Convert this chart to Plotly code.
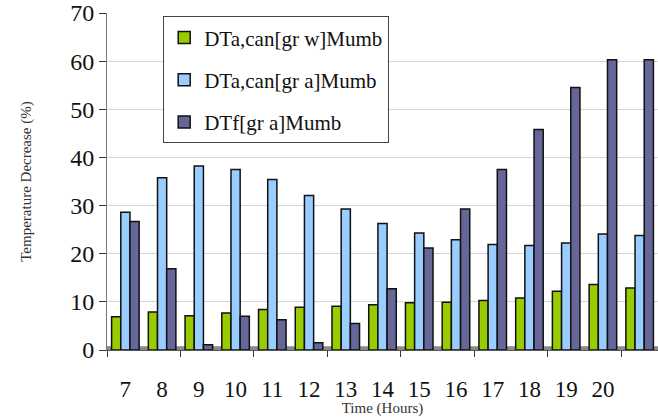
import plotly.graph_objects as go

# Hourly temperature decrease for three configurations
hours = ["7", "8", "9", "10", "11", "12", "13", "14", "15", "16", "17", "18", "19", "20", ""]
series_names = ["DTa,can[gr w]Mumb", "DTa,can[gr a]Mumb", "DTf[gr a]Mumb"]
green_vals = [6.9, 7.9, 7.1, 7.7, 8.4, 8.9, 9.1, 9.4, 9.8, 9.9, 10.3, 10.8, 12.2, 13.6, 12.9]
blue_vals = [28.6, 35.8, 38.2, 37.5, 35.4, 32.1, 29.3, 26.3, 24.3, 22.9, 21.9, 21.7, 22.2, 24.1, 23.8]
purple_vals = [26.7, 16.9, 1.1, 7.0, 6.3, 1.5, 5.5, 12.7, 21.2, 29.3, 37.5, 45.8, 54.5, 60.3, 60.3]
colors = ["#99cc00", "#99ccff", "#666699"]

pos = list(range(len(hours)))
serif = "Liberation Serif"

fig = go.Figure()
for i, (name, vals, col) in enumerate(zip(series_names, [green_vals, blue_vals, purple_vals], colors)):
    fig.add_trace(go.Bar(
        x=pos, y=vals, name=name, legendgroup=str(i),
        marker=dict(color=col, line=dict(color="#111111", width=1.5)),
    ))

# invisible helper trace carrying the between-group tick marks
fig.add_trace(go.Scatter(x=[0], y=[0], xaxis="x2", mode="markers",
                         marker=dict(opacity=0), showlegend=False, hoverinfo="skip"))

fig.update_layout(
    width=658, height=417,
    margin=dict(l=107, r=0, t=13, b=67),
    paper_bgcolor="white", plot_bgcolor="white",
    barmode="group", bargap=0.25, bargroupgap=0,
    font=dict(family=serif, color="#111111"),
    showlegend=True,
    legend=dict(
        x=0.102, y=0.99, xanchor="left", yanchor="top",
        bgcolor="white", bordercolor="#444444", borderwidth=1,
        font=dict(family=serif, size=21, color="#111111"),
        traceorder="grouped", tracegroupgap=12,
    ),
    xaxis=dict(
        range=[-0.5, len(hours) - 0.5],
        tickmode="array", tickvals=pos, ticktext=hours,
        ticks="", ticklabelstandoff=18,
        tickfont=dict(family=serif, size=23, color="#111111"),
        showline=True, linecolor="#555555", linewidth=1,
        showgrid=False, zeroline=False,
        title=dict(text="Time (Hours)", font=dict(family=serif, size=15, color="#333333"), standoff=2),
    ),
    xaxis2=dict(
        overlaying="x", side="bottom", anchor="y",
        range=[-0.5, len(hours) - 0.5],
        tickmode="array", tickvals=[-0.5, 1.5, 3.5, 5.5, 7.5, 9.5, 11.5, 13.5],
        ticks="outside", ticklen=6, tickcolor="#333333",
        showticklabels=False, showgrid=False, zeroline=False, showline=False,
    ),
    yaxis=dict(
        range=[0, 70], tickmode="array", tickvals=list(range(0, 71, 10)),
        ticks="outside", ticklen=7, tickcolor="#333333",
        tickfont=dict(family=serif, size=24, color="#111111"),
        showline=True, linecolor="#777777", linewidth=1,
        showgrid=True, gridcolor="#d4d4d4", gridwidth=1, zeroline=False,
        title=dict(text="Temperature Decrease (%)", font=dict(family=serif, size=15, color="#333333"), standoff=34),
    ),
)

# gray floor band beneath the bars
fig.add_shape(type="rect", xref="paper", yref="y", x0=0, x1=1, y0=0, y1=0.8,
              fillcolor="#8a8a8a", line=dict(width=0), layer="below")

fig.write_html("out.html")
